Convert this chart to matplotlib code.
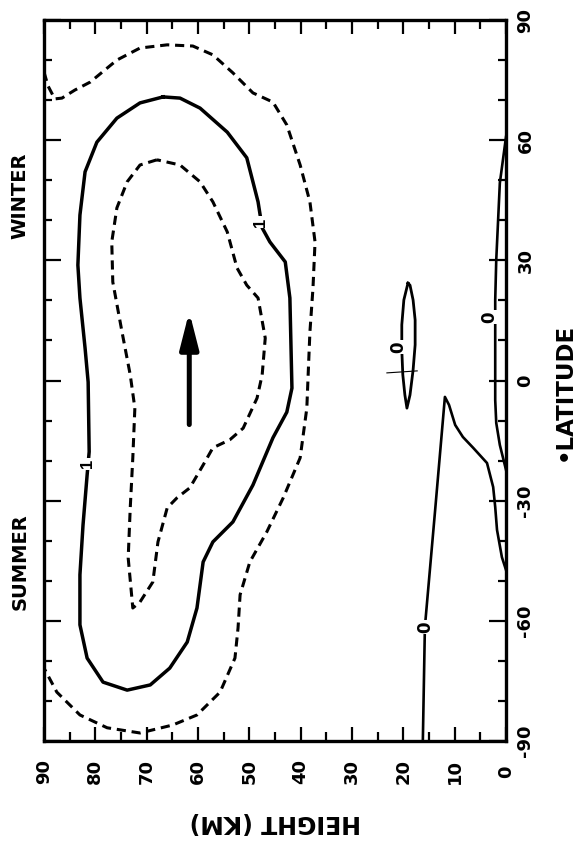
import matplotlib
matplotlib.use("Agg")
import matplotlib.pyplot as plt

# axis ticks
height_ticks = [90, 80, 70, 60, 50, 40, 30, 20, 10, 0]
height_ticklabels = ["90", "80", "70", "60", "50", "40", "30", "20", "10", "0"]
height_minor = [85, 75, 65, 55, 45, 35, 25, 15, 5]
lat_ticks = [-90, -60, -30, 0, 30, 60, 90]
lat_ticklabels = ["-90", "-60", "-30", "0", "30", "60", "90"]
lat_minor = [-80, -70, -50, -40, -20, -10, 10, 20, 40, 50, 70, 80]

# outer dashed contour (latitude, height km)
outer_lat = [77.0, 73.5, 70.3, 70.5, 72.5, 74.5, 80.0, 83.0, 83.8, 83.5, 81.3, 76.8, 71.8, 69.5,
             63.8, 53.8, 44.6, 34.6, 23.1, 12.1, -0.4, -6.9, -19.3, -29.3, -37.8, -45.3, -53.5,
             -61.8, -69.3, -77.8, -83.5, -86.0, -88.0, -86.7, -83.5, -77.8, -71.8]
outer_km = [90.0, 89.2, 87.9, 86.5, 84.0, 81.0, 75.8, 71.3, 66.0, 61.0, 57.1, 53.2, 49.3, 45.4,
            42.7, 40.1, 38.2, 37.2, 37.6, 38.2, 38.6, 38.8, 40.1, 43.4, 46.6, 49.9, 51.8,
            52.2, 52.8, 55.7, 60.2, 64.9, 71.3, 77.7, 83.0, 87.5, 90.0]

# solid "1" contour
one_lat = [70.8, 69.3, 65.5, 59.5, 52.1, 41.3, 28.8, 20.6, 8.1, -0.4, -17.8, -23.6, -36.1, -48.5,
           -61.0, -69.3, -75.3, -77.3, -76.0, -71.8, -65.3, -56.8, -45.3, -40.3, -35.3, -26.1,
           -14.3, -7.9, -1.9, 20.6, 29.6, 34.6, 38.1, 44.6, 55.6, 62.0, 68.0, 70.5, 70.8]
one_km = [66.8, 71.3, 75.8, 79.7, 82.0, 83.0, 83.4, 83.0, 82.0, 81.4, 81.2, 81.6, 82.4, 83.0,
          83.0, 81.6, 78.5, 73.8, 69.3, 65.5, 62.1, 60.2, 59.0, 57.1, 53.2, 49.3,
          45.4, 42.7, 41.7, 42.1, 43.0, 46.0, 47.5, 48.3, 50.5, 54.3, 59.6, 63.5, 66.8]

# inner dashed contour
inner_lat = [55.1, 53.8, 49.6, 43.1, 34.6, 24.6, 12.1, 1.4, -6.9, -19.3, -31.8, -44.3, -56.8,
             -55.3, -50.3, -40.3, -31.8, -29.3, -26.8, -21.1, -16.8, -14.8, -11.9, -4.4, 1.4,
             10.6, 20.6, 23.8, 28.1, 37.1, 44.6, 49.6, 53.8, 55.1]
inner_km = [68.0, 71.3, 73.8, 75.8, 76.8, 76.6, 74.8, 73.2, 72.3, 72.7, 73.2, 73.6, 72.7,
            71.3, 68.8, 67.8, 66.0, 64.1, 61.6, 59.0, 57.1, 53.8, 51.2, 48.5, 47.5,
            46.9, 48.3, 50.5, 52.4, 54.3, 57.1, 59.6, 63.5, 68.0]

# zero contours
zero_lat = [-90.0, -61.5, -32.3, -4.1, -6.1, -11.1, -14.1, -16.8, -20.6, -26.6, -31.6, -37.3, -44.1, -47.3]
zero_km = [16.2, 15.8, 13.8, 11.9, 11.1, 9.9, 8.4, 6.4, 3.7, 2.5, 2.1, 1.75, 0.8, 0.0]

lens_lat = [60.8, 49.3, 30.1, 20.1, -4.9, -10.6, -16.1, -22.3]
lens_km = [0.0, 1.2, 1.9, 2.1, 2.1, 1.9, 1.2, 0.0]

loop_lat = [24.3, 20.1, 13.9, 7.6, 1.4, -3.6, -6.9, -3.6, 2.6, 8.9, 15.1, 20.1, 23.8, 24.3]
loop_km = [19.1, 19.9, 20.3, 20.3, 20.1, 19.7, 19.3, 18.7, 18.1, 17.7, 17.7, 18.1, 18.7, 19.1]

mark_lat = [1.9, 2.4]
mark_km = [23.2, 17.3]

arrow_km = 61.7
arrow_lat = [-11.0, 17.2]

# contour labels: (height km, latitude, text)
label_km = [81.6, 47.9, 15.8, 21.0, 3.2]
label_lat = [-20.8, 39.6, -61.5, 8.4, 15.9]
label_txt = ["1", "1", "0", "0", "0"]

plt.rcParams['font.family'] = ['DejaVu Sans']
plt.rcParams['font.weight'] = 'bold'

fig = plt.figure(figsize=(5.79, 8.42), dpi=100)
W, H = 579, 842
ax = fig.add_axes([44 / W, 1 - 741 / H, (506 - 44) / W, (741 - 20) / H])
ax.set_xlim(90, 0)
ax.set_ylim(-90, 90)

dash = (0, (3.0, 1.9))
ax.plot(outer_km, outer_lat, color='black', lw=2.2, linestyle=dash, dash_joinstyle='round')
ax.plot(one_km, one_lat, color='black', lw=2.5, solid_joinstyle='round')
ax.plot(inner_km, inner_lat, color='black', lw=2.2, linestyle=dash, dash_joinstyle='round')
ax.plot(zero_km, zero_lat, color='black', lw=1.9, solid_joinstyle='round')
ax.plot(lens_km, lens_lat, color='black', lw=1.9)
ax.plot(loop_km, loop_lat, color='black', lw=2.0, solid_joinstyle='round')
ax.plot(mark_km, mark_lat, color='black', lw=0.8)

ax.annotate('', xy=(arrow_km, arrow_lat[1]), xytext=(arrow_km, arrow_lat[0]),
            arrowprops=dict(arrowstyle='-|>,head_length=1.1,head_width=0.28',
                            mutation_scale=20, lw=3.6, color='black', shrinkA=0, shrinkB=0))

for k, la, t in zip(label_km, label_lat, label_txt):
    fam = ['Liberation Sans'] if t == "1" else ['DejaVu Sans']
    ax.text(k, la, t, rotation=90, ha='center', va='center', fontsize=12,
            fontweight='bold', family=fam, zorder=5,
            bbox=dict(boxstyle='square,pad=0.08', fc='white', ec='none'))

for sp in ax.spines.values():
    sp.set_linewidth(2.4)

ax.set_xticks(height_ticks)
ax.set_xticks(height_minor, minor=True)
ax.set_xticklabels(height_ticklabels, rotation=90, va='center', fontsize=13, fontweight='bold')
ax.set_yticks(lat_ticks)
ax.set_yticks(lat_minor, minor=True)
ax.set_yticklabels(lat_ticklabels, rotation=90, ha='center', va='center', fontsize=13,
                   fontweight='bold')

ax.tick_params(axis='x', which='both', direction='in', top=True, bottom=True, width=1.6)
ax.tick_params(axis='x', which='major', length=10, pad=22)
ax.tick_params(axis='x', which='minor', length=6.5)
ax.tick_params(axis='y', which='both', direction='in', left=True, right=True,
               labelleft=False, labelright=True, width=1.6)
ax.tick_params(axis='y', which='major', length=12.5, pad=14)
ax.tick_params(axis='y', which='minor', length=5.5)

fig.text(275 / W, 1 - 822 / H, "HEIGHT (KM)", rotation=180, ha='center', va='center',
         fontsize=17, fontweight='bold')
fig.text(564 / W, 1 - 392 / H, "\u2022LATITUDE", rotation=90, ha='center', va='center',
         fontsize=16.5, fontweight='bold')
fig.text(20 / W, 1 - 196 / H, "WINTER", rotation=90, ha='center', va='center',
         fontsize=14, fontweight='bold')
fig.text(20 / W, 1 - 562 / H, "SUMMER", rotation=90, ha='center', va='center',
         fontsize=14, fontweight='bold')

fig.savefig("out.png", dpi=100, facecolor='white')
